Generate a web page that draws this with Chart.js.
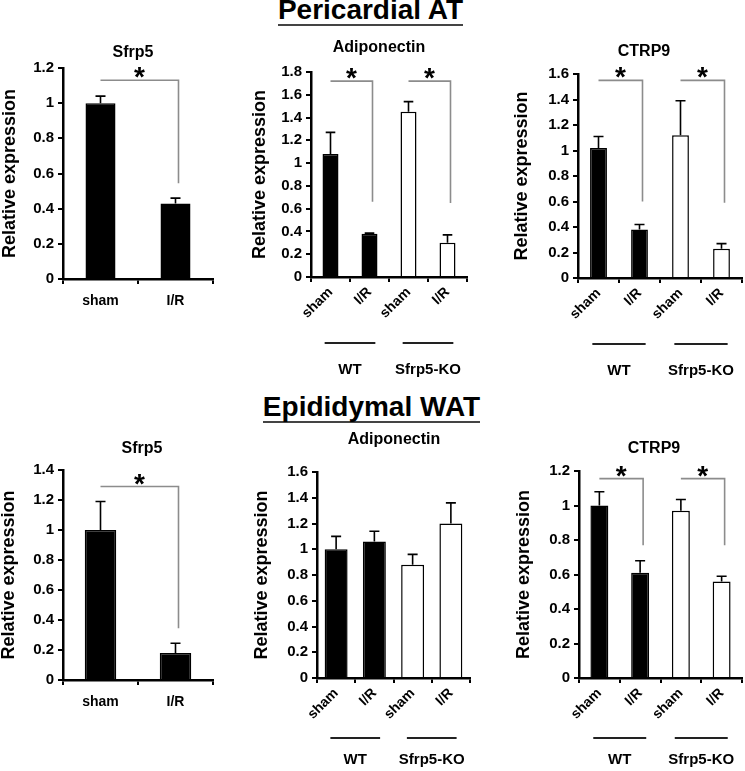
<!DOCTYPE html>
<html><head><meta charset="utf-8">
<script src="https://cdn.jsdelivr.net/npm/chart.js@4/dist/chart.umd.min.js"></script>
<style>
html,body{margin:0;padding:0;background:#fff;}
#page{position:relative;width:745px;height:771px;overflow:hidden;background:#fff;font-family:"Liberation Sans",Arial,sans-serif;}
canvas{position:absolute;left:0;top:0;}
.sect{position:absolute;left:0;width:745px;text-align:center;font-weight:bold;font-size:28px;line-height:28px;color:#000;white-space:nowrap;}
.sect span{display:inline-block;border-bottom:2px solid #444;line-height:28px;}
</style></head>
<body><div id="page">
<div class="sect" style="top:-4px;left:-2px;"><span>Pericardial AT</span></div>
<div class="sect" style="top:393px;left:-1px;"><span>Epididymal WAT</span></div>
<canvas id="c1" width="745" height="771"></canvas>
<canvas id="c2" width="745" height="771"></canvas>
<canvas id="c3" width="745" height="771"></canvas>
<canvas id="c4" width="745" height="771"></canvas>
<canvas id="c5" width="745" height="771"></canvas>
<canvas id="c6" width="745" height="771"></canvas>
</div>
<script>
// ---------- data ----------
const cats2 = ['sham', 'I/R'];
const cats4 = ['sham', 'I/R', 'sham', 'I/R'];
const groupNames = ['WT', 'Sfrp5-KO'];
const yTitle = 'Relative expression';

const periSfrp5 = [1.00, 0.43];
const periSfrp5Err = [0.04, 0.03];
const periAdipo = [1.08, 0.38, 1.45, 0.30];
const periAdipoErr = [0.19, 0.005, 0.09, 0.07];
const periCtrp9 = [1.02, 0.38, 1.12, 0.23];
const periCtrp9Err = [0.09, 0.04, 0.27, 0.04];

const epiSfrp5 = [1.00, 0.18];
const epiSfrp5Err = [0.19, 0.065];
const epiAdipo = [1.00, 1.06, 0.88, 1.20];
const epiAdipoErr = [0.10, 0.08, 0.08, 0.16];
const epiCtrp9 = [1.00, 0.61, 0.97, 0.56];
const epiCtrp9Err = [0.08, 0.07, 0.065, 0.03];

// brackets: [from index, to index, top level, bottom level]
const periSfrp5Sig = [[0, 1, 1.13, 0.545]];
const periAdipoSig = [[0, 1, 1.72, 0.66], [2, 3, 1.72, 0.65]];
const periCtrp9Sig = [[0, 1, 1.55, 0.60], [2, 3, 1.55, 0.59]];
const epiSfrp5Sig = [[0, 1, 1.29, 0.345]];
const epiAdipoSig = [];
const epiCtrp9Sig = [[0, 1, 1.156, 0.77], [2, 3, 1.156, 0.77]];

const yMax = [1.2, 1.8, 1.6, 1.4, 1.6, 1.2];
const panelTitles = ['Sfrp5', 'Adiponectin', 'CTRP9', 'Sfrp5', 'Adiponectin', 'CTRP9'];

// ---------- drawing ----------
const F = '"Liberation Sans", Arial, sans-serif';
const BLACK = '#000', WHITE = '#fff';

const overlay = {
  id: 'overlay',
  afterDatasetsDraw(chart) {
    const o = chart.options.plugins.overlay;
    const ctx = chart.ctx;
    const meta = chart.getDatasetMeta(0);
    const ys = chart.scales.y;
    const ca = chart.chartArea;
    ctx.save();
    // error bars
    ctx.strokeStyle = BLACK; ctx.lineWidth = 1.6;
    meta.data.forEach((bar, i) => {
      const v = o.values[i], e = o.errors[i];
      const yTop = ys.getPixelForValue(v + e);
      const yBar = ys.getPixelForValue(v);
      const half = Math.min(5, bar.width * 0.3);
      ctx.beginPath();
      ctx.moveTo(bar.x, yBar); ctx.lineTo(bar.x, yTop);
      ctx.moveTo(bar.x - half, yTop); ctx.lineTo(bar.x + half, yTop);
      ctx.stroke();
    });
    // significance brackets
    ctx.strokeStyle = '#8c8c8c'; ctx.lineWidth = 1.6;
    o.brackets.forEach(b => {
      const x0 = meta.data[b[0]].x, x1 = meta.data[b[1]].x + 3;
      const yH = ys.getPixelForValue(b[2]), yL = ys.getPixelForValue(b[3]);
      ctx.beginPath();
      ctx.moveTo(x0, yH); ctx.lineTo(x1, yH); ctx.lineTo(x1, yL);
      ctx.stroke();
      ctx.fillStyle = BLACK;
      ctx.font = 'bold 28px ' + F;
      ctx.textAlign = 'center'; ctx.textBaseline = 'alphabetic';
      ctx.fillText('*', (x0 + x1) / 2, yH + 6);
    });
    // panel title
    ctx.fillStyle = BLACK;
    ctx.font = 'bold 16px ' + F;
    ctx.textAlign = 'center'; ctx.textBaseline = 'alphabetic';
    ctx.fillText(o.title, o.titleX, o.titleY);
    // genotype groups
    if (o.groups) {
      ctx.strokeStyle = '#222'; ctx.lineWidth = 2;
      ctx.font = 'bold 15px ' + F;
      [[0, 1], [2, 3]].forEach((g, k) => {
        const xa = meta.data[g[0]].x, xb = meta.data[g[1]].x;
        const cw = xb - xa, c = (xa + xb) / 2;
        const ly = ca.bottom + o.groupLine;
        ctx.beginPath();
        ctx.moveTo(c - 0.65 * cw, ly); ctx.lineTo(c + 0.65 * cw, ly);
        ctx.stroke();
        ctx.fillText(groupNames[k], c, ca.bottom + o.groupText);
      });
    }
    ctx.restore();
  }
};

function panel(id, p) {
  const padLeft = p.yTitleX - 11.8;
  const yW = p.area.l - padLeft;
  const xH = 60;
  new Chart(document.getElementById(id), {
    type: 'bar',
    data: {
      labels: p.labels,
      datasets: [{
        data: p.values,
        backgroundColor: p.fills,
        borderColor: BLACK,
        borderWidth: 1.5,
        barPercentage: p.barPct,
        categoryPercentage: 1
      }]
    },
    options: {
      responsive: false, animation: false, devicePixelRatio: 1,
      layout: { padding: { left: padLeft, top: p.area.t, right: 745 - p.area.r, bottom: 771 - p.area.b - xH } },
      plugins: {
        legend: { display: false }, tooltip: { enabled: false }, title: { display: false },
        overlay: {
          values: p.values, errors: p.errors, brackets: p.brackets,
          title: p.title, titleX: p.titleX, titleY: p.titleY,
          groups: p.groups, groupLine: p.groupLine, groupText: p.groupText
        }
      },
      scales: {
        x: {
          grid: { display: true, drawOnChartArea: false, drawTicks: true, tickLength: 5, color: BLACK, lineWidth: 2, offset: true },
          border: { display: true, color: BLACK, width: 2.5 },
          ticks: { color: BLACK, font: { family: F, size: 14, weight: 'bold' }, maxRotation: p.rot, minRotation: p.rot, autoSkip: false, padding: p.rot ? 2 : 9 },
          afterFit: s => { s.height = xH; }
        },
        y: {
          min: 0, max: p.yMax,
          grid: { display: true, drawOnChartArea: false, drawTicks: true, tickLength: 5, color: BLACK, lineWidth: 2 },
          border: { display: true, color: BLACK, width: 2.5 },
          ticks: { stepSize: 0.2, color: BLACK, padding: 4, font: { family: F, size: 15, weight: 'bold' },
                   callback: v => String(Math.round(v * 10) / 10) },
          title: { display: true, text: yTitle, color: BLACK, font: { family: F, size: 18, weight: 'bold' }, padding: { top: 1, bottom: 0 } },
          afterFit: s => { s.width = yW; }
        }
      }
    },
    plugins: [overlay]
  });
}

const blk2 = [BLACK, BLACK];
const mix4 = [BLACK, BLACK, WHITE, WHITE];

panel('c1', { labels: cats2, values: periSfrp5, errors: periSfrp5Err, brackets: periSfrp5Sig, fills: blk2,
  yMax: yMax[0], area: { l: 63, t: 68, r: 213, b: 279 }, yTitleX: 10, title: panelTitles[0], titleX: 133, titleY: 57, rot: 0, barPct: 0.4 });
panel('c2', { labels: cats4, values: periAdipo, errors: periAdipoErr, brackets: periAdipoSig, fills: mix4,
  yMax: yMax[1], area: { l: 311, t: 72, r: 467, b: 277 }, yTitleX: 260, title: panelTitles[1], titleX: 379, titleY: 52, rot: 45, barPct: 0.41,
  groups: true, groupLine: 66, groupText: 97 });
panel('c3', { labels: cats4, values: periCtrp9, errors: periCtrp9Err, brackets: periCtrp9Sig, fills: mix4,
  yMax: yMax[2], area: { l: 578, t: 74, r: 742, b: 278 }, yTitleX: 522, title: panelTitles[2], titleX: 644, titleY: 56, rot: 45, barPct: 0.41,
  groups: true, groupLine: 66, groupText: 97 });
panel('c4', { labels: cats2, values: epiSfrp5, errors: epiSfrp5Err, brackets: epiSfrp5Sig, fills: blk2,
  yMax: yMax[3], area: { l: 63, t: 470, r: 213, b: 680 }, yTitleX: 9, title: panelTitles[3], titleX: 142, titleY: 453, rot: 0, barPct: 0.42 });
panel('c5', { labels: cats4, values: epiAdipo, errors: epiAdipoErr, brackets: epiAdipoSig, fills: mix4,
  yMax: yMax[4], area: { l: 317, t: 472, r: 470, b: 678 }, yTitleX: 262, title: panelTitles[4], titleX: 394, titleY: 444, rot: 45, barPct: 0.6,
  groups: true, groupLine: 60, groupText: 86 });
panel('c6', { labels: cats4, values: epiCtrp9, errors: epiCtrp9Err, brackets: epiCtrp9Sig, fills: mix4,
  yMax: yMax[5], area: { l: 579, t: 471, r: 742, b: 678 }, yTitleX: 524, title: panelTitles[5], titleX: 654, titleY: 453, rot: 45, barPct: 0.44,
  groups: true, groupLine: 60, groupText: 86 });
</script>
</body></html>
